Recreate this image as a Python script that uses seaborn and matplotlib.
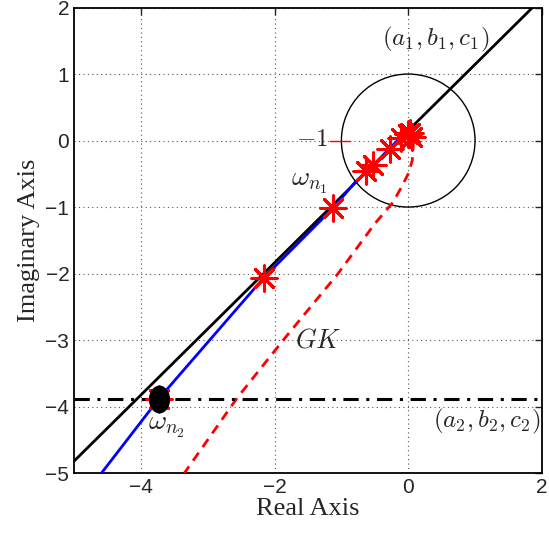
import numpy as np
import pandas as pd
import matplotlib
matplotlib.use("Agg")
import matplotlib.pyplot as plt
from matplotlib.patches import Circle
from matplotlib.path import Path
import seaborn as sns

# straight line through (a1,b1,c1)
black_x = [-5.0, 1.86]
black_y = [-4.82, 2.0]

# blue curve
blue_x = [-4.59, -3.73, -2.16, -1.12, -0.79, -0.62, -0.50, -0.28, -0.12, 0.0, 0.06]
blue_y = [-5.0, -3.88, -2.06, -1.01, -0.62, -0.46, -0.35, -0.12, 0.04, 0.10, 0.06]

# GK (red dashed)
red_x = [0.08, 0.06, 0.0, -0.10, -0.23, -0.50, -1.05, -1.87, -2.56, -3.35]
red_y = [0.0, -0.30, -0.50, -0.70, -0.93, -1.25, -2.0, -3.0, -3.87, -5.0]

# frequency markers
star_x = [-3.73, -2.16, -1.12, -0.63, -0.53, -0.28, -0.11, -0.01, 0.06, 0.03]
star_y = [-3.88, -2.06, -1.01, -0.46, -0.37, -0.12, 0.04, 0.10, 0.05, 0.12]

dot_x = [-3.73]
dot_y = [-3.88]

h_level = -3.88      # (a2,b2,c2) line
circle_r = 1.0       # unit circle
crit_x = [-1.17, -0.87]
crit_y = [0.0, 0.0]

sns.set_style("white")
plt.rcParams["mathtext.fontset"] = "cm"

fig = plt.figure(figsize=(5.49, 5.40), dpi=100)
ax = fig.add_axes([0.135, 0.124, 0.852, 0.862])

ax.add_patch(Circle((0, 0), circle_r, fill=False, color="black", lw=1.0, zorder=2))

sns.lineplot(x=black_x, y=black_y, sort=False, color="black", lw=2.0, ax=ax, zorder=3)
sns.lineplot(x=blue_x, y=blue_y, sort=False, color="blue", lw=2.0, ax=ax, zorder=3)
ax.plot(red_x, red_y, color="red", lw=2.0, ls=(0, (3.5, 2.5)), zorder=3)
ax.axhline(h_level, color="black", lw=2.2, ls=(0, (5, 2.5, 1, 2.5)), zorder=3)
ax.plot(crit_x, crit_y, color="red", lw=1.0, zorder=3)

star_df = pd.DataFrame({"x": star_x, "y": star_y})
sns.scatterplot(data=star_df, x="x", y="y", marker=(8, 2, 0), s=330,
                color="red", linewidth=2.2, edgecolor="red", ax=ax, zorder=4)

t = np.linspace(0, 2 * np.pi, 60)
ell = Path(np.column_stack([0.75 * np.cos(t), np.sin(t)]))
ax.scatter(dot_x, dot_y, marker=ell, s=360, color="black", zorder=5)

ax.set_xlim(-5, 2)
ax.set_ylim(-5, 2)
ax.set_xticks([-4, -2, 0, 2])
ax.set_yticks([-5, -4, -3, -2, -1, 0, 1, 2])
ax.grid(True, color="#555555", ls=(0, (1, 3)), lw=0.8)
ax.tick_params(direction="in", length=5, top=True, right=True, labelsize=15, width=1)
for lab in ax.get_xticklabels() + ax.get_yticklabels():
    lab.set_family("Liberation Sans")
for sp in ax.spines.values():
    sp.set_color("black")
    sp.set_linewidth(1.3)

ax.set_xlabel("Real Axis", family="Liberation Serif", fontsize=19, labelpad=1)
ax.set_ylabel("Imaginary Axis", family="Liberation Serif", fontsize=19, labelpad=4)

ax.text(-0.39, 1.52, r"$(a_1,b_1,c_1)$", fontsize=18, va="center", ha="left")
ax.text(0.37, -4.23, r"$(a_2,b_2,c_2)$", fontsize=18, va="center", ha="left")
ax.text(-1.75, -0.62, r"$\omega_{n_1}$", fontsize=20, va="center", ha="left")
ax.text(-3.89, -4.29, r"$\omega_{n_2}$", fontsize=20, va="center", ha="left")
ax.text(-1.69, -3.0, r"$GK$", fontsize=19, va="center", ha="left")
ax.text(-1.2, 0.02, r"$-1$", fontsize=18, va="center", ha="right")

fig.savefig("out.png", dpi=100)
